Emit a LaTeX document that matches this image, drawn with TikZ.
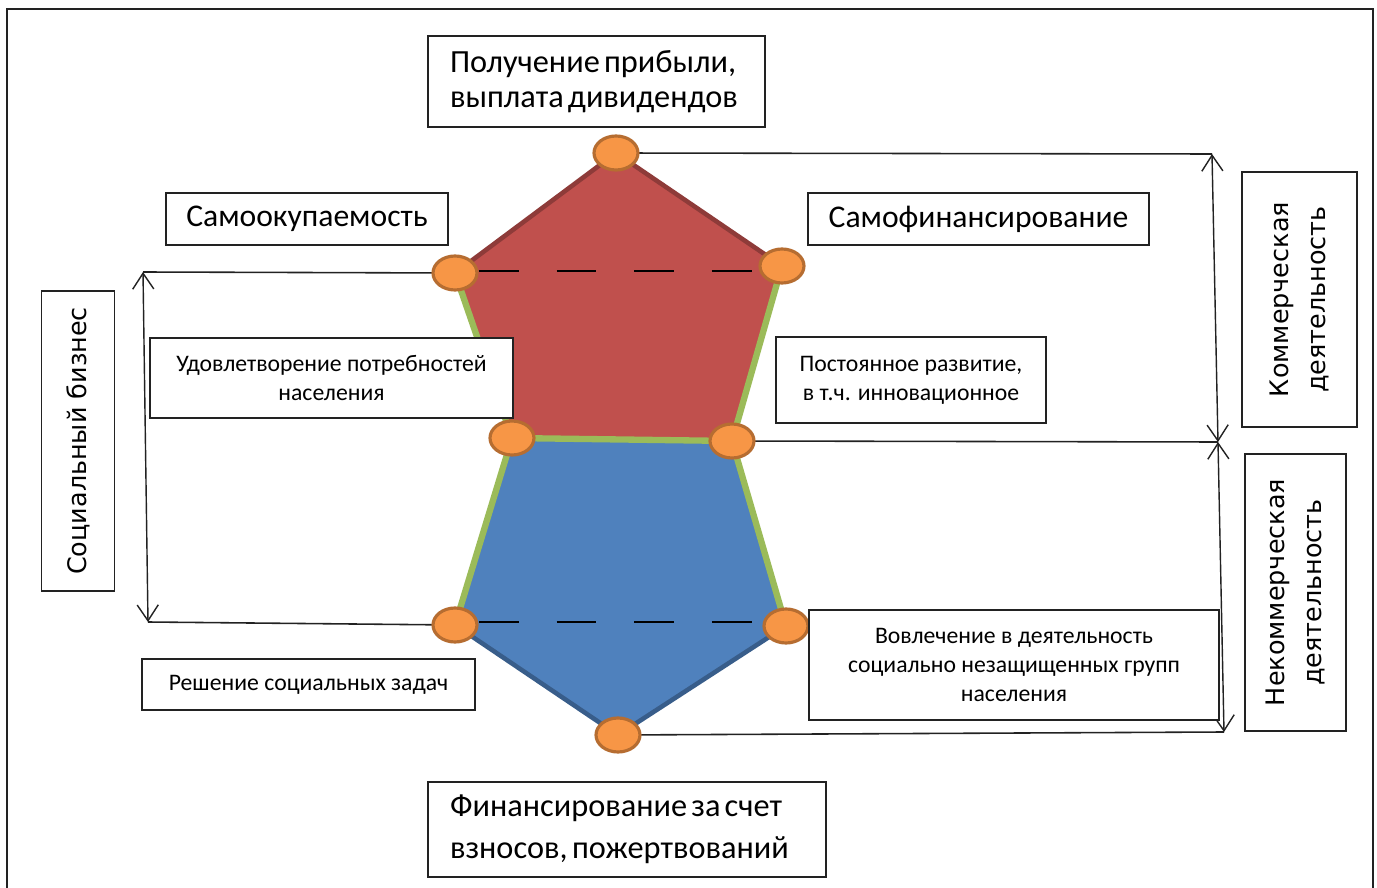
\documentclass[tikz,border=0pt]{standalone}
\usepackage{fontspec}
\setmainfont{Carlito}
\newfontfamily\bigfont{Carlito}
\newfontfamily\vfont{DejaVu Sans}
\newcommand\nsp{\hspace{0.13em}}
\usetikzlibrary{arrows.meta,shapes.geometric}
\definecolor{pred}{HTML}{C0504D}
\definecolor{predd}{HTML}{8E3B39}
\definecolor{pblue}{HTML}{4F81BD}
\definecolor{pblued}{HTML}{385D8A}
\definecolor{pgreen}{HTML}{9BBB59}
\definecolor{porange}{HTML}{F79646}
\definecolor{porangeb}{HTML}{B66D31}
\definecolor{lineg}{HTML}{222222}
\tikzset{
  bbox/.style={draw=lineg, line width=1pt, fill=white, inner sep=0pt},
  bigt/.style={font=\bigfont\fontsize{18.4}{20}\selectfont},
  midt/.style={font=\bigfont\fontsize{18}{20}\selectfont},
  smallt/.style={font=\fontsize{13.5}{16.5}\selectfont, align=center},
  vt/.style={font=\vfont\fontsize{14.5}{21}\selectfont, align=center, rotate=90},
  vert/.style={shape=ellipse, fill=porange, draw=porangeb, line width=1.8pt, minimum width=0.88cm, minimum height=0.68cm, inner sep=0pt},
  conn/.style={draw=lineg, line width=0.9pt},
  dbl/.style={draw=lineg, line width=0.8pt, {Straight Barb[length=9pt,width=12pt]}-{Straight Barb[length=9pt,width=12pt]}},
  dsh/.style={draw=black, line width=1.7pt, dash pattern=on 22.5pt off 21.7pt},
  edgeg/.style={draw=pgreen, line width=3.6pt, line cap=round},
}
\begin{document}
\begin{tikzpicture}[x=0.02cm,y=-0.02cm]
\useasboundingbox (0,0) rectangle (1377,888);
\fill[white] (0,0) rectangle (1377,888);
% frame
\draw[draw=lineg, line width=1.2pt] (7,892) -- (7,9) -- (1373,9) -- (1373,892);
% vertices
\coordinate (vT) at (616,153);
\coordinate (vUL) at (455,273);
\coordinate (vUR) at (782,266);
\coordinate (vML) at (512,438);
\coordinate (vMR) at (732,441);
\coordinate (vLL) at (455,625);
\coordinate (vLR) at (786,626);
\coordinate (vB) at (618,735);
% free ends
\coordinate (aL1) at (143,272);
\coordinate (aL2) at (148,622);
\coordinate (aR1) at (1212,154);
\coordinate (aR2) at (1218,442);
\coordinate (aR3) at (1224,732);
% shapes
\fill[pred] (vT) -- (vUR) -- (vMR) -- (vML) -- (vUL) -- cycle;
\fill[pblue] (vML) -- (vMR) -- (vLR) -- (vB) -- (vLL) -- cycle;
\draw[predd, line width=2.6pt, line join=round] (vUL) -- (vT) -- (vUR);
\draw[pblued, line width=2.6pt, line join=round] (vLL) -- (vB) -- (vLR);
\draw[edgeg] (vUL) -- (vML) -- (vLL);
\draw[edgeg] (vUR) -- (vMR) -- (vLR);
\draw[edgeg] (vML) -- (vMR);
% dashed lines
\draw[dsh] ([xshift=0.48cm]vUL |- 0,271) -- (vUR |- 0,271);
\draw[dsh] ([xshift=0.48cm]vLL |- 0,622) -- (vLR |- 0,622);
% connectors
\draw[conn] (aL1) -- (vUL);
\draw[conn] (aL2) -- (vLL);
\draw[conn] (vT) -- (aR1);
\draw[conn] (vMR) -- (aR2);
\draw[conn] (vB) -- (aR3);
\draw[dbl] (aL1) -- (aL2);
\draw[dbl] (aR1) -- (aR2);
\draw[dbl] (aR2) -- (aR3);
% vertex circles
\foreach \v in {vT,vUL,vUR,vML,vMR,vLL,vLR,vB}{\node[vert] (c\v) at (\v) {};}
% boxes
\node[bbox, bigt, text width=5.86cm, inner xsep=0.44cm, minimum height=1.82cm, align=left] (tb) at (596.5,81.5) {Получение\nsp прибыли,\\выплата\nsp дивидендов};
\node[bbox, midt, minimum width=5.64cm, minimum height=1.04cm] (samo) at (307,219) {Самоокупаемость};
\node[bbox, midt, minimum width=6.82cm, minimum height=1.04cm] (samof) at (978.5,219) {Самофинансирование};
\node[bbox, smallt, minimum width=7.26cm, minimum height=1.6cm] (udov) at (331.5,378) {Удовлетворение потребностей\\населения};
\node[bbox, smallt, minimum width=5.4cm, minimum height=1.72cm] (post) at (911,380) {Постоянное развитие,\\в т.ч. инновационное};
\node[bbox, smallt, minimum width=6.66cm, minimum height=1.02cm] (resh) at (308.5,684.5) {Решение социальных задач};
\node[bbox, smallt, minimum width=8.2cm, minimum height=2.2cm] (vovl) at (1014,665) {Вовлечение в деятельность\\социально незащищенных групп\\населения};
\node[bbox, font=\bigfont\fontsize{18.4}{24}\selectfont, text width=7.08cm, inner xsep=0.44cm, minimum height=1.9cm, align=left] (fin) at (627,829.5) {Финансирование\nsp за\nsp счет\\взносов,\nsp пожертвований};
\node[bbox, vt, minimum width=6cm, minimum height=1.46cm] (soc) at (78,441) {Социальный бизнес};
\node[bbox, vt, minimum width=5.1cm, minimum height=2.3cm] (kom) at (1299.5,299.5) {Коммерческая\\деятельность};
\node[bbox, vt, minimum width=5.54cm, minimum height=2.02cm] (nekom) at (1295.5,592.5) {Некоммерческая\\деятельность};
\end{tikzpicture}
\end{document}
